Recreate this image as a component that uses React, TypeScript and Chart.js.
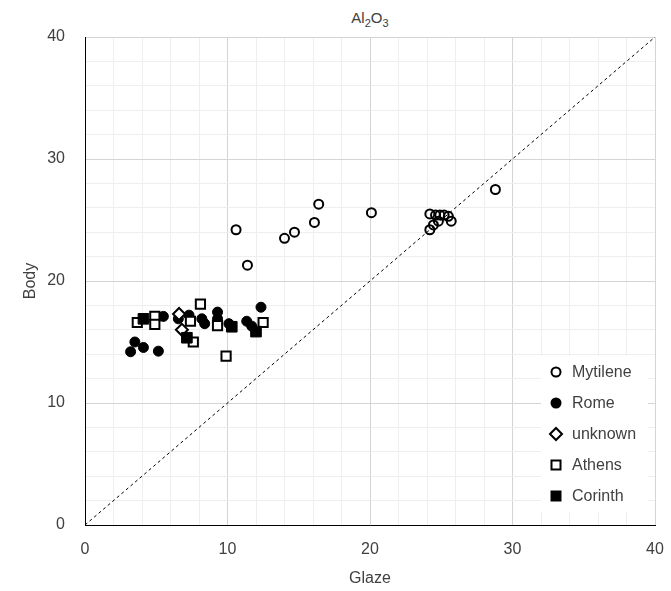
import React, { useEffect, useRef } from "react";
import { Chart, registerables } from "chart.js";

Chart.register(...registerables);

const mytileneX = [10.6, 11.4, 14.0, 14.7, 16.1, 16.4, 20.1, 28.8, 24.2, 24.6, 24.9, 25.2, 25.5, 25.7, 24.8, 24.45, 24.2];
const mytileneY = [24.2, 21.3, 23.5, 24.0, 24.8, 26.3, 25.6, 27.5, 25.5, 25.4, 25.4, 25.4, 25.3, 24.9, 24.9, 24.6, 24.2];

const romeX = [3.2, 3.5, 4.1, 5.15, 5.5, 6.55, 7.3, 8.2, 8.4, 9.3, 9.3, 10.1, 11.35, 11.7, 12.35];
const romeY = [14.2, 15.0, 14.55, 14.25, 17.1, 16.9, 17.2, 16.9, 16.5, 17.45, 16.9, 16.5, 16.7, 16.3, 17.85];

const unknownX = [6.6, 6.8];
const unknownY = [17.3, 16.0];

const athensX = [3.67, 4.9, 4.9, 7.4, 8.1, 7.6, 9.3, 9.9, 12.5];
const athensY = [16.6, 17.1, 16.45, 16.7, 18.1, 15.0, 16.35, 13.85, 16.6];

const corinthX = [4.1, 7.15, 10.3, 12.0];
const corinthY = [16.9, 15.35, 16.25, 15.85];

const diagX = [0, 40];
const diagY = [0, 40];

const seriesNames = ["Mytilene", "Rome", "unknown", "Athens", "Corinth"];

const xTitle = "Glaze";
const yTitle = "Body";

const FONT = "'Liberation Sans', Arial, sans-serif";
const TEXT = "#404040";

const zip = (xs: number[], ys: number[]) => xs.map((x, i) => ({ x, y: ys[i] }));

function drawMarker(ctx: CanvasRenderingContext2D, kind: string, x: number, y: number) {
  ctx.save();
  ctx.strokeStyle = "#000";
  ctx.fillStyle = "#000";
  ctx.lineWidth = 2;
  ctx.beginPath();
  if (kind === "Mytilene") {
    ctx.arc(x, y, 4.5, 0, Math.PI * 2);
    ctx.fillStyle = "#fff";
    ctx.fill();
    ctx.stroke();
  } else if (kind === "Rome") {
    ctx.arc(x, y, 5.5, 0, Math.PI * 2);
    ctx.fill();
  } else if (kind === "unknown") {
    ctx.moveTo(x - 6, y);
    ctx.lineTo(x, y - 6);
    ctx.lineTo(x + 6, y);
    ctx.lineTo(x, y + 6);
    ctx.closePath();
    ctx.fillStyle = "#fff";
    ctx.fill();
    ctx.stroke();
  } else if (kind === "Athens") {
    ctx.rect(x - 4.5, y - 4.5, 9, 9);
    ctx.fillStyle = "#fff";
    ctx.fill();
    ctx.stroke();
  } else {
    ctx.rect(x - 5.5, y - 5.5, 11, 11);
    ctx.fill();
  }
  ctx.restore();
}

const legendPlugin = {
  id: "customLegend",
  afterDraw(chart: any) {
    const ctx = chart.ctx as CanvasRenderingContext2D;
    ctx.save();
    ctx.fillStyle = "#fff";
    ctx.fillRect(541, 356, 107, 156);
    ctx.font = `16px ${FONT}`;
    ctx.textBaseline = "middle";
    ctx.textAlign = "left";
    seriesNames.forEach((name, i) => {
      const cy = 372 + i * 31;
      drawMarker(ctx, name, 556, cy);
      ctx.fillStyle = TEXT;
      ctx.fillText(name, 572, cy + 1);
    });
    ctx.restore();
  },
};

export default function App() {
  const canvasRef = useRef<HTMLCanvasElement | null>(null);

  useEffect(() => {
    if (!canvasRef.current) return;
    const gridColor = (c: any) => (c.tick && Math.round(c.tick.value) % 10 === 0 ? "#d4d4d4" : "#eeeeee");
    const tickCb = (v: any) => (Math.round(Number(v)) % 10 === 0 ? String(v) : "");
    const chart = new Chart(canvasRef.current, {
      type: "scatter",
      data: {
        datasets: [
          {
            type: "line",
            label: "diag",
            data: zip(diagX, diagY),
            borderColor: "#000",
            borderWidth: 1,
            borderDash: [3, 3],
            pointRadius: 0,
            fill: false,
            order: 10,
          } as any,
          {
            label: seriesNames[0],
            data: zip(mytileneX, mytileneY),
            pointStyle: "circle",
            pointRadius: 4.5,
            borderWidth: 2,
            borderColor: "#000",
            backgroundColor: "rgba(255,255,255,0)",
            order: 5,
          },
          {
            label: seriesNames[1],
            data: zip(romeX, romeY),
            pointStyle: "circle",
            pointRadius: 5,
            borderWidth: 1,
            borderColor: "#000",
            backgroundColor: "#000",
            order: 4,
          },
          {
            label: seriesNames[2],
            data: zip(unknownX, unknownY),
            pointStyle: "rectRot",
            pointRadius: 6,
            borderWidth: 2,
            borderColor: "#000",
            backgroundColor: "#fff",
            order: 3,
          },
          {
            label: seriesNames[3],
            data: zip(athensX, athensY),
            pointStyle: "rect",
            pointRadius: 6.5,
            borderWidth: 2,
            borderColor: "#000",
            backgroundColor: "#fff",
            order: 2,
          },
          {
            label: seriesNames[4],
            data: zip(corinthX, corinthY),
            pointStyle: "rect",
            pointRadius: 7.5,
            borderWidth: 1,
            borderColor: "#000",
            backgroundColor: "#000",
            order: 1,
          },
        ],
      },
      options: {
        animation: false,
        responsive: true,
        maintainAspectRatio: false,
        layout: { padding: { top: 37, right: 16, left: 0, bottom: 0 } },
        plugins: {
          legend: { display: false },
          tooltip: { enabled: false },
          title: { display: false },
        },
        scales: {
          x: {
            type: "linear",
            min: 0,
            max: 40,
            ticks: {
              stepSize: 2,
              autoSkip: false,
              maxRotation: 0,
              callback: tickCb,
              font: { family: FONT, size: 16 },
              color: TEXT,
              padding: 15,
            },
            grid: { color: gridColor, drawTicks: false, lineWidth: 1 },
            border: { display: true, color: "#000", width: 1 },
            title: {
              display: true,
              text: xTitle,
              font: { family: FONT, size: 16 },
              color: TEXT,
              padding: { top: 0, bottom: 3 },
            },
            afterFit: (s: any) => {
              s.height = 66;
              s.paddingLeft = 0;
              s.paddingRight = 0;
            },
          },
          y: {
            type: "linear",
            min: 0,
            max: 40,
            ticks: {
              stepSize: 2,
              autoSkip: false,
              callback: tickCb,
              font: { family: FONT, size: 16 },
              color: TEXT,
              padding: 20,
            },
            grid: { color: gridColor, drawTicks: false, lineWidth: 1 },
            border: { display: true, color: "#000", width: 1 },
            title: {
              display: true,
              text: yTitle,
              font: { family: FONT, size: 16 },
              color: TEXT,
              padding: { top: 21, bottom: 0 },
            },
            afterFit: (s: any) => {
              s.width = 85;
              s.paddingTop = 0;
              s.paddingBottom = 0;
            },
          },
        },
      },
      plugins: [legendPlugin],
    });
    return () => chart.destroy();
  }, []);

  return (
    <div style={{ position: "absolute", left: 0, top: 0, width: 671, height: 591, background: "#fff" }}>
      <div
        style={{
          position: "absolute",
          left: 85,
          width: 570,
          top: 9,
          textAlign: "center",
          fontFamily: FONT,
          fontSize: 15,
          lineHeight: "17px",
          color: TEXT,
        }}
      >
        Al<sub style={{ fontSize: 11 }}>2</sub>O<sub style={{ fontSize: 11 }}>3</sub>
      </div>
      <canvas ref={canvasRef} width={671} height={591} style={{ position: "absolute", left: 0, top: 0 }} />
    </div>
  );
}
